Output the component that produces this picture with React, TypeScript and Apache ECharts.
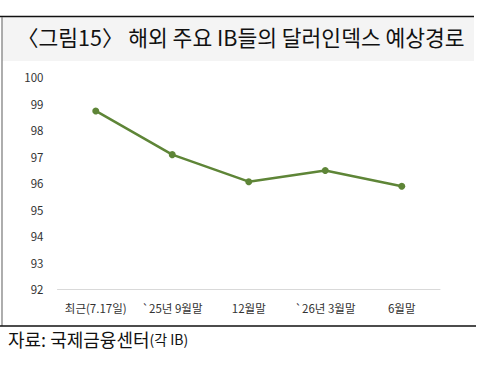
import React, { useEffect, useRef } from "react";
import * as echarts from "echarts";

const categories = ["최근(7.17일)", "`25년 9월말", "12월말", "`26년 3월말", "6월말"];
const dollarIndex = [98.72, 97.07, 96.05, 96.47, 95.88];
const yMin = 92;
const yMax = 100;
const titleText = "〈그림15〉 해외 주요 IB들의 달러인덱스 예상경로";

export default function App() {
  const ref = useRef<HTMLDivElement>(null);
  useEffect(() => {
    const chart = echarts.init(ref.current!, null, { renderer: "svg" });
    const font = "'Noto Sans CJK KR', 'Noto Sans', sans-serif";
    chart.setOption({
      animation: false,
      backgroundColor: "#ffffff",
      grid: { left: 57.5, right: 48, top: 77, bottom: 87 },
      xAxis: {
        type: "category",
        data: categories,
        boundaryGap: true,
        axisLine: { lineStyle: { color: "#d9d9d9", width: 1 } },
        axisTick: { show: false },
        axisLabel: { color: "#333", fontSize: 11.5, fontFamily: font, margin: 13, interval: 0 },
      },
      yAxis: {
        type: "value",
        min: yMin,
        max: yMax,
        interval: 1,
        axisLine: { show: false },
        axisTick: { show: false },
        splitLine: { show: false },
        axisLabel: { color: "#333", fontSize: 11.5, fontFamily: font, margin: 14 },
      },
      series: [
        {
          type: "line",
          data: dollarIndex,
          symbol: "circle",
          symbolSize: 7,
          itemStyle: { color: "#5E8537" },
          lineStyle: { color: "#5E8537", width: 2.5 },
        },
      ],
      graphic: [
        { type: "rect", shape: { x: 2, y: 17, width: 472, height: 44 }, style: { fill: "#f4f4f4" }, z: 0 },
        { type: "line", shape: { x1: 0, y1: 16.5, x2: 474, y2: 16.5 }, style: { stroke: "#111", lineWidth: 1.5 } },
        { type: "line", shape: { x1: 2, y1: 17, x2: 2, y2: 326 }, style: { stroke: "#777", lineWidth: 1.2 } },
        { type: "line", shape: { x1: 0, y1: 326, x2: 476, y2: 326 }, style: { stroke: "#111", lineWidth: 1.5 } },
        {
          type: "text",
          left: 17,
          top: 26,
          style: { text: titleText, fontSize: 21.5, fill: "#111", fontFamily: font },
        },
        {
          type: "text",
          left: 8,
          top: 330,
          style: {
            text: "{a|자료: 국제금융센터}{b|(각 IB)}",
            fontFamily: font,
            rich: {
              a: { fontSize: 18, fill: "#111", fontFamily: font },
              b: { fontSize: 14, fill: "#111", fontFamily: font },
            },
          },
        },
      ],
    });
    return () => chart.dispose();
  }, []);
  return (
    <div
      ref={ref}
      style={{ position: "fixed", left: 0, top: 0, width: 488, height: 376 }}
    />
  );
}
